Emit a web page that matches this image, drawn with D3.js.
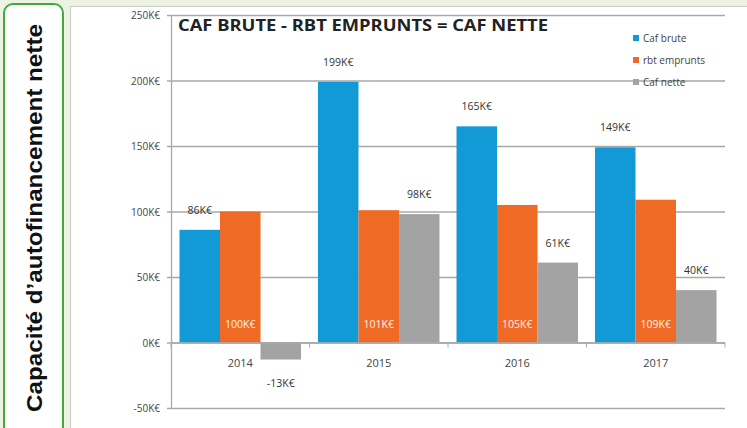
<!DOCTYPE html>
<html>
<head>
<meta charset="utf-8">
<title>CAF brute - rbt emprunts = CAF nette</title>
<script src="https://cdn.jsdelivr.net/npm/d3@7"></script>
<style>
  body { margin: 0; background: #edf2e3; }
  svg { display: block; }
</style>
</head>
<body>
<div id="chart"></div>
<script>
// data (K€)
var years = ["2014", "2015", "2016", "2017"];
var cafBrute = [86, 199, 165, 149];
var rbtEmprunts = [100, 101, 105, 109];
var cafNette = [-13, 98, 61, 40];
var yTicks = [-50, 0, 50, 100, 150, 200, 250];
var seriesNames = ["Caf brute", "rbt emprunts", "Caf nette"];
var colors = ["#119ad6", "#ef6a24", "#a3a3a3"];

var width = 747, height = 428;
var plot = {left: 171, right: 725, top: 15, bottom: 408};

var svg = d3.select("#chart").append("svg")
    .attr("width", width)
    .attr("height", height);

svg.append("rect")
    .attr("width", width).attr("height", height)
    .attr("fill", "#edf2e3");

// side panel with vertical title
svg.append("rect")
    .attr("x", 4).attr("y", 4)
    .attr("width", 59).attr("height", 450)
    .attr("rx", 9)
    .attr("fill", "#fff")
    .attr("stroke", "#3fab3a")
    .attr("stroke-width", 2);

svg.append("text")
    .attr("transform", "translate(42,218) rotate(-90)")
    .attr("text-anchor", "middle")
    .attr("font-family", "Liberation Sans, Arial, sans-serif")
    .attr("font-weight", "bold")
    .attr("font-size", 21.5)
    .attr("textLength", 388)
    .attr("lengthAdjust", "spacingAndGlyphs")
    .attr("fill", "#111")
    .text("Capacité d\u2019autofinancement nette");

// chart box
svg.append("rect")
    .attr("x", 70.5).attr("y", 6.5)
    .attr("width", 690).attr("height", 440)
    .attr("fill", "#fff")
    .attr("stroke", "#c9cdc4");

var y = d3.scaleLinear()
    .domain([-50, 250])
    .range([plot.bottom, plot.top]);

var x0 = d3.scaleBand()
    .domain(years)
    .range([plot.left, plot.right]);

var x1 = d3.scaleBand()
    .domain(seriesNames)
    .range([0, x0.bandwidth()])
    .paddingOuter(0.21)
    .paddingInner(0);

// gridlines
svg.append("g")
  .selectAll("line")
  .data(yTicks)
  .join("line")
    .attr("x1", plot.left - 4)
    .attr("x2", plot.right)
    .attr("y1", d => y(d) + 0.5)
    .attr("y2", d => y(d) + 0.5)
    .attr("stroke", "#a9a9a9")
    .attr("stroke-width", 1.3);

// y axis labels
svg.append("g")
  .selectAll("text")
  .data(yTicks)
  .join("text")
    .attr("x", plot.left - 11)
    .attr("y", d => y(d) + 4)
    .attr("text-anchor", "end")
    .attr("font-family", "Open Sans, sans-serif")
    .attr("font-size", 10)
    .attr("fill", "#444")
    .text(d => d + "K\u20ac");

// vertical axis line
svg.append("line")
    .attr("x1", plot.left + 0.5).attr("x2", plot.left + 0.5)
    .attr("y1", plot.top).attr("y2", plot.bottom)
    .attr("stroke", "#a9a9a9")
    .attr("stroke-width", 1.3);

var rows = years.map(function(yr, i) {
  return {year: yr, values: [cafBrute[i], rbtEmprunts[i], cafNette[i]]};
});

var groups = svg.append("g")
  .selectAll("g")
  .data(rows)
  .join("g")
    .attr("transform", d => "translate(" + x0(d.year) + ",0)");

groups.selectAll("rect")
  .data(d => d.values.map((v, j) => ({name: seriesNames[j], v: v, j: j})))
  .join("rect")
    .attr("x", d => x1(d.name))
    .attr("width", x1.bandwidth())
    .attr("y", d => y(Math.max(0, d.v)))
    .attr("height", d => Math.abs(y(d.v) - y(0)))
    .attr("fill", d => colors[d.j]);

// value labels
groups.selectAll("text.val")
  .data(d => d.values.map((v, j) => ({name: seriesNames[j], v: v, j: j})))
  .join("text")
    .attr("class", "val")
    .attr("x", d => x1(d.name) + x1.bandwidth() / 2)
    .attr("y", function(d) {
      if (d.j == 1) return y(0) - 15;
      if (d.v < 0) return y(d.v) + 27;
      return y(d.v) - 16;
    })
    .attr("text-anchor", "middle")
    .attr("font-family", "Open Sans, sans-serif")
    .attr("font-size", 10.5)
    .attr("fill", d => d.j == 1 ? "#fff3ea" : "#333")
    .text(d => d.v + "K\u20ac");

// x axis line at zero + ticks
svg.append("line")
    .attr("x1", plot.left).attr("x2", plot.right)
    .attr("y1", y(0) + 0.5).attr("y2", y(0) + 0.5)
    .attr("stroke", "#a9a9a9")
    .attr("stroke-width", 1.3);

svg.append("g")
  .selectAll("line")
  .data(years.concat(["end"]))
  .join("line")
    .attr("x1", (d, i) => plot.left + i * x0.bandwidth())
    .attr("x2", (d, i) => plot.left + i * x0.bandwidth())
    .attr("y1", y(0))
    .attr("y2", y(0) + 5)
    .attr("stroke", "#a9a9a9");

svg.append("g")
  .selectAll("text")
  .data(years)
  .join("text")
    .attr("x", d => x0(d) + x0.bandwidth() / 2)
    .attr("y", y(0) + 24)
    .attr("text-anchor", "middle")
    .attr("font-family", "Open Sans, sans-serif")
    .attr("font-size", 11)
    .attr("fill", "#444")
    .text(d => d);

// title
svg.append("text")
    .attr("x", 178)
    .attr("y", 31)
    .attr("font-family", "Open Sans, sans-serif")
    .attr("font-weight", "bold")
    .attr("font-size", 16)
    .attr("textLength", 370)
    .attr("lengthAdjust", "spacingAndGlyphs")
    .attr("fill", "#222")
    .text("CAF BRUTE - RBT EMPRUNTS = CAF NETTE");

// legend
var legend = svg.append("g")
  .selectAll("g")
  .data(seriesNames)
  .join("g")
    .attr("transform", (d, i) => "translate(633," + (38 + i * 22) + ")");

legend.append("rect")
    .attr("x", 0).attr("y", -3)
    .attr("width", 6).attr("height", 6)
    .attr("fill", (d, i) => colors[i]);

legend.append("text")
    .attr("x", 10)
    .attr("y", 4)
    .attr("font-family", "Open Sans, sans-serif")
    .attr("font-size", 10)
    .attr("fill", "#444")
    .text(d => d);
</script>
</body>
</html>
